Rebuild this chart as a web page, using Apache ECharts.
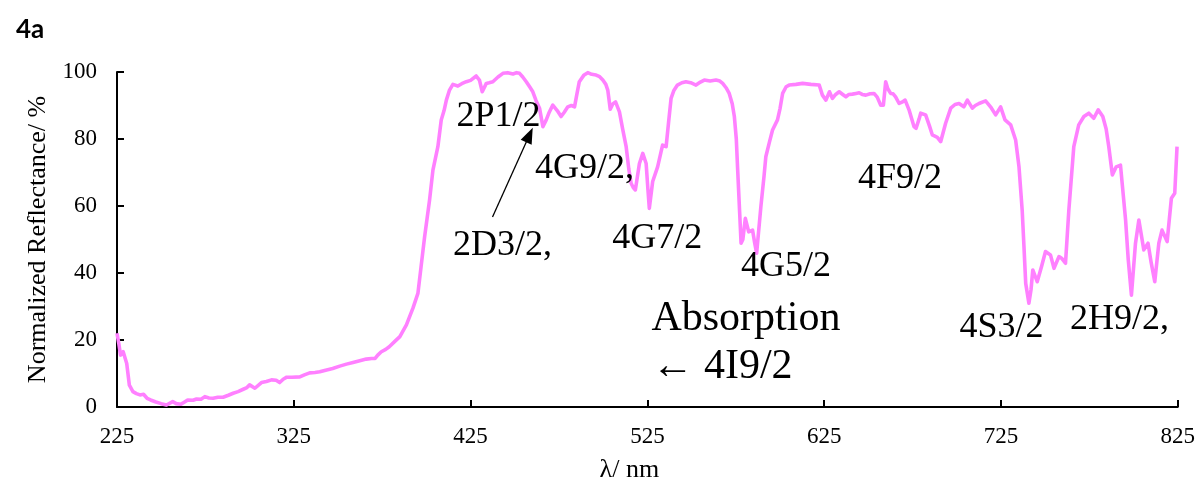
<!DOCTYPE html>
<html>
<head>
<meta charset="utf-8">
<title>4a</title>
<script src="https://cdn.jsdelivr.net/npm/echarts@6/dist/echarts.min.js"></script>
<style>
  html, body { margin: 0; padding: 0; background: #ffffff; }
  #chart { width: 1198px; height: 488px; }
</style>
</head>
<body>
<div id="chart"></div>
<script>
// Normalized diffuse reflectance spectrum (wavelength in nm, reflectance in %)
const wavelength = [
  225, 226, 227, 228.5, 229.5, 230.5, 232, 234, 236, 238, 240, 242, 244, 247, 250, 253, 256.5, 258.5, 261, 263,
  265, 268, 270, 272.5, 274.7, 277, 279.4, 282, 285, 288, 290.7, 293.5, 296.4, 298.5, 300, 303, 306.7, 309.5, 312.4, 315,
  317, 319, 321, 324, 328.4, 331, 334, 337, 339.7, 343, 347, 351, 354.8, 358.5, 362.3, 366, 369, 371, 372.5, 374.5,
  377, 379, 382, 385, 388.7, 392.4, 395.2, 397, 399, 401.8, 403.7, 406.5, 408.4, 410, 411.3, 413, 415, 417.8, 420, 422.6,
  425, 428.2, 430, 431.6, 433.9, 435.5, 437.6, 440.5, 443.3, 446, 449, 451, 452.7, 454.5, 456.5, 458.5, 460.2, 462, 464, 465.9,
  467.8, 469.5, 471.5, 474, 476.2, 478, 480, 482, 483.8, 485, 486.5, 489, 491.3, 493.5, 496, 498, 499.8, 501.5, 502.6, 504,
  505.5, 507, 509.2, 511, 513, 514.5, 515.8, 517, 518.2, 520.5, 522.4, 524.3, 525.3, 526.1, 528, 530.8, 533.6, 535.6, 537, 538.4,
  540, 542, 544.5, 546.8, 549.5, 552.5, 555, 557.2, 560.5, 563.8, 566, 567.6, 569.5, 571.3, 573, 574.2, 575.3, 576, 577.2, 578,
  579, 580.4, 582.3, 584.5, 585.7, 586.8, 589.2, 591, 592, 594, 595.8, 598.6, 600, 601.5, 603.5, 605.2, 609, 612.8, 617.5, 622.2,
  624, 626, 628, 629.7, 631.5, 633.5, 635.5, 637.3, 639, 641, 643, 644.8, 646.5, 648.6, 651, 653.2, 655, 657, 658.5, 659.8,
  661, 662.6, 664, 665.4, 667.4, 669, 670.8, 673, 675.8, 677, 678.7, 679.6, 682.4, 684.5, 686.2, 689, 690.9, 693.7, 696.6, 699,
  701.3, 704, 706, 708.8, 710.5, 712.6, 716.3, 719.1, 722, 724.8, 727.3, 730.5, 733.3, 735.2, 737, 738, 739, 740.8, 742, 743,
  745.5, 748, 750.2, 753, 755, 757.8, 759.5, 761.5, 763.4, 766.2, 769, 771.9, 774.7, 777.5, 780, 782.6, 784.5, 786, 788, 790.2,
  792.6, 795.5, 797, 798.8, 801.1, 803, 805.8, 808.2, 810, 812, 814.3, 816.1, 819, 821.4, 823.3, 824.6
];
const reflectance = [
  22.0, 19.0, 15.5, 16.5, 16.0, 13.0, 6.5, 4.6, 4.0, 3.6, 3.8, 2.6, 2.1, 1.5, 1.0, 0.6, 1.6, 1.0, 0.8, 1.4,
  2.1, 2.0, 2.4, 2.3, 3.1, 2.7, 2.6, 2.9, 2.9, 3.5, 4.1, 4.6, 5.3, 5.8, 6.6, 5.6, 7.3, 7.6, 8.1, 8.0,
  7.3, 8.3, 8.9, 8.9, 9.0, 9.6, 10.2, 10.3, 10.5, 11.0, 11.5, 12.2, 12.8, 13.3, 13.8, 14.3, 14.5, 14.5, 15.5, 16.5,
  17.2, 18.0, 19.5, 21.0, 24.5, 29.5, 33.9, 41.9, 50.8, 61.8, 70.7, 77.7, 85.7, 88.5, 91.6, 94.5, 96.3, 95.8, 96.5, 97.1,
  97.5, 98.8, 97.6, 94.1, 96.6, 96.8, 97.1, 98.5, 99.6, 99.8, 99.4, 99.8, 99.6, 98.5, 97.1, 95.5, 94.1, 91.5, 89.2, 83.7,
  85.7, 88.0, 90.1, 88.5, 86.7, 88.0, 89.6, 90.0, 89.6, 93.0, 97.1, 99.0, 99.8, 99.3, 99.1, 98.6, 97.6, 96.3, 94.6, 88.9,
  90.5, 91.1, 88.1, 83.0, 77.7, 71.0, 66.8, 65.5, 64.8, 72.7, 75.7, 72.7, 65.0, 59.3, 67.3, 71.7, 78.2, 77.7, 85.0, 92.1,
  94.5, 96.1, 96.8, 97.1, 96.8, 96.1, 97.0, 97.6, 97.3, 97.6, 97.3, 96.6, 95.3, 93.6, 90.5, 86.7, 80.0, 71.7, 58.0, 48.9,
  50.0, 56.3, 52.3, 52.8, 49.0, 45.9, 59.8, 69.0, 74.7, 79.0, 82.7, 85.7, 89.0, 93.6, 95.6, 96.1, 96.3, 96.6, 96.3, 96.1,
  93.1, 91.6, 94.1, 92.1, 93.3, 94.1, 93.3, 92.6, 93.3, 93.4, 93.6, 93.8, 93.3, 93.1, 93.5, 93.6, 92.5, 90.1, 90.1, 97.1,
  95.0, 93.6, 93.5, 92.6, 90.6, 91.0, 91.6, 88.7, 83.7, 83.2, 86.0, 87.7, 87.2, 84.0, 81.2, 80.5, 79.2, 84.7, 89.2, 90.3,
  90.6, 89.6, 91.6, 89.2, 90.0, 90.6, 91.4, 89.6, 87.2, 89.6, 85.7, 84.2, 79.7, 71.7, 58.8, 48.0, 36.9, 31.0, 35.0, 40.9,
  37.4, 42.0, 46.4, 45.4, 41.4, 44.9, 44.3, 42.9, 58.8, 77.7, 84.2, 86.7, 87.7, 86.2, 88.7, 86.7, 83.0, 77.7, 69.3, 71.7,
  72.2, 55.8, 44.0, 33.4, 48.9, 55.8, 46.9, 48.9, 43.0, 37.4, 48.9, 52.8, 49.4, 62.3, 63.8, 77.7
];

// Axis ticks
const xTicks = [225, 325, 425, 525, 625, 725, 825];
const yTicks = [0, 20, 40, 60, 80, 100];

// Term labels of the Nd3+ transitions, anchored in data coordinates
const termLabels = ['2P1/2', '4G9/2,', '2D3/2,', '4G7/2', '4G5/2', '4F9/2', '4S3/2', '2H9/2,'];
const termX = [440.8, 489.4, 443.1, 530.6, 603.4, 667.9, 725.3, 792.1];
const termY = [86.6, 71.3, 48.1, 50.4, 41.8, 68.1, 23.7, 26.0];

// Ground-state note (left aligned)
const noteLabels = ['Absorption', '\u2190 4I9/2'];
const noteX = [527.3, 527.3];
const noteY = [26.3, 11.9];

// Arrow from "2D3/2," up to the 2P1/2 band
const arrowFrom = [437.4, 56.7];
const arrowTo = [458.3, 81.2];

const serif = "'Liberation Serif', 'Times New Roman', serif";

const chart = echarts.init(document.getElementById('chart'), null, { renderer: 'canvas' });
chart.setOption({
  animation: false,
  backgroundColor: '#ffffff',
  title: {
    text: '4a', left: 11, top: 12,
    textStyle: { fontFamily: "Lato, 'Open Sans', sans-serif", fontWeight: 'bold', fontSize: 26, color: '#000' }
  },
  grid: { left: 117, right: 19, top: 72, bottom: 81, containLabel: false },
  xAxis: {
    type: 'value', min: 225, max: 825,
    name: '\u03bb/ nm', nameLocation: 'middle', nameGap: 50,
    nameTextStyle: { fontFamily: serif, fontSize: 26, color: '#000', padding: [0, 36, 0, 0] },
    axisLine: { show: true, lineStyle: { color: '#000', width: 2 } },
    axisTick: { show: true, inside: true, length: 7, customValues: xTicks, lineStyle: { color: '#000', width: 2 } },
    axisLabel: { customValues: xTicks, fontFamily: serif, fontSize: 23, color: '#000', margin: 18 },
    splitLine: { show: false }
  },
  yAxis: {
    type: 'value', min: 0, max: 100, interval: 20,
    name: 'Normalized Reflectance/ %', nameLocation: 'middle', nameGap: 63, nameRotate: 90,
    nameTextStyle: { fontFamily: serif, fontSize: 26, color: '#000' },
    axisLine: { show: true, lineStyle: { color: '#000', width: 2 } },
    axisTick: { show: true, inside: true, length: 7, customValues: yTicks, lineStyle: { color: '#000', width: 2 } },
    axisLabel: { customValues: yTicks, fontFamily: serif, fontSize: 23, color: '#000', margin: 20 },
    splitLine: { show: false }
  },
  series: [
    {
      type: 'line',
      data: wavelength.map((w, i) => [w, reflectance[i]]),
      showSymbol: false,
      smooth: false,
      lineStyle: { color: '#ff80ff', width: 3.6, join: 'round' },
      itemStyle: { color: '#ff80ff' },
      markLine: {
        silent: true,
        symbol: ['none', 'triangle'],
        symbolSize: [12, 16],
        label: { show: false },
        lineStyle: { color: '#000', width: 1.3, type: 'solid' },
        data: [[{ coord: arrowFrom }, { coord: arrowTo }]]
      }
    }
  ]
});

// Place the spectroscopic labels through the axis scales
function toPx(x, y) {
  return chart.convertToPixel({ xAxisIndex: 0, yAxisIndex: 0 }, [x, y]);
}
const texts = [];
termLabels.forEach((t, i) => {
  const p = toPx(termX[i], termY[i]);
  texts.push({
    type: 'text', x: p[0], y: p[1], silent: true, z: 10,
    style: { text: t, fill: '#000', font: '36px ' + serif, align: 'center', verticalAlign: 'middle' }
  });
});
noteLabels.forEach((t, i) => {
  const p = toPx(noteX[i], noteY[i]);
  texts.push({
    type: 'text', x: p[0], y: p[1], silent: true, z: 10,
    style: { text: t, fill: '#000', font: '42px ' + serif, align: 'left', verticalAlign: 'middle' }
  });
});
chart.setOption({ graphic: texts });
</script>
</body>
</html>
